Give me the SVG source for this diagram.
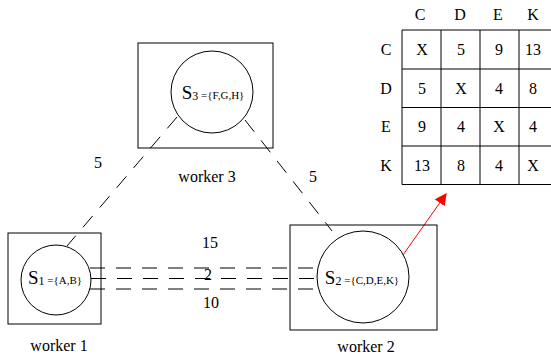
<svg xmlns="http://www.w3.org/2000/svg" width="551" height="359" viewBox="0 0 551 359">
<defs>
<style>
text{font-family:"Liberation Serif","Times New Roman",serif;fill:#000}
.lbl{font-size:16px}
.big{font-size:19px}
.sub{font-size:12px}
.set{font-size:11px}
.box{fill:none;stroke:#000;stroke-width:1}
.node{fill:#fff;stroke:#000;stroke-width:1}
.dash{fill:none;stroke:#000;stroke-width:1;stroke-dasharray:15 11}
.grid{fill:none;stroke:#000;stroke-width:1}
</style>
<marker id="ah" viewBox="0 0 10 10" refX="9" refY="5" markerWidth="12" markerHeight="12" markerUnits="userSpaceOnUse" orient="auto">
<path d="M0,0 L10,5 L0,10 z" fill="#f00"/>
</marker>
</defs>
<rect width="551" height="359" fill="#fff"/>
<g id="connectors">
<line class="dash" x1="177" y1="117" x2="67" y2="246"/>
<line class="dash" x1="245" y1="120" x2="332" y2="231"/>
<line class="dash" x1="90" y1="268" x2="318" y2="268"/>
<line class="dash" x1="91" y1="278.5" x2="317" y2="278.5"/>
<line class="dash" x1="90" y1="289" x2="318" y2="289"/>
<line x1="403" y1="255" x2="446" y2="194" stroke="#f00" stroke-width="1" marker-end="url(#ah)"/>
<text class="lbl" x="98" y="168" text-anchor="middle">5</text>
<text class="lbl" x="313" y="182" text-anchor="middle">5</text>
<text class="lbl" x="210" y="248" text-anchor="middle">15</text>
<text class="lbl" x="208" y="280" text-anchor="middle">2</text>
<text class="lbl" x="211" y="308" text-anchor="middle">10</text>
</g>
<g id="worker3">
<rect class="box" x="138" y="43" width="135" height="105"/>
<circle class="node" cx="212" cy="92" r="41"/>
<text x="213" y="99" text-anchor="middle"><tspan class="big">S</tspan><tspan class="sub" dy="1">3</tspan><tspan class="set" dy="-1"> ={F,G,H}</tspan></text>
<text class="lbl" x="207" y="182" text-anchor="middle">worker 3</text>
</g>
<g id="worker1">
<rect class="box" x="8" y="233" width="93" height="91"/>
<circle class="node" cx="56" cy="280" r="35"/>
<text x="55" y="284" text-anchor="middle"><tspan class="big">S</tspan><tspan class="sub" dy="1">1</tspan><tspan class="set" dy="-1"> ={A,B}</tspan></text>
<text class="lbl" x="59" y="351" text-anchor="middle">worker 1</text>
</g>
<g id="worker2">
<rect class="box" x="290" y="225" width="147" height="105"/>
<circle class="node" cx="363" cy="277" r="46"/>
<text x="362" y="284" text-anchor="middle"><tspan class="big">S</tspan><tspan class="sub" dy="1">2</tspan><tspan class="set" dy="-1"> ={C,D,E,K}</tspan></text>
<text class="lbl" x="366" y="352" text-anchor="middle">worker 2</text>
</g>
<g id="table">
<path class="grid" d="M402,30H551M402,69H551M402,107.5H551M402,146H551M402,184.5H551M402,30V184.5M441,30V184.5M480,30V184.5M519,30V184.5"/>
<g class="lbl" text-anchor="middle">
<text x="420" y="20">C</text><text x="460" y="20">D</text><text x="498" y="20">E</text><text x="533" y="20">K</text>
<text x="386" y="55">C</text><text x="386" y="94">D</text><text x="386" y="132">E</text><text x="386" y="171">K</text>
<text x="422" y="55">X</text><text x="461" y="55">5</text><text x="499" y="55">9</text><text x="533" y="55">13</text>
<text x="422" y="94">5</text><text x="461" y="94">X</text><text x="499" y="94">4</text><text x="533" y="94">8</text>
<text x="422" y="132">9</text><text x="461" y="132">4</text><text x="499" y="132">X</text><text x="533" y="132">4</text>
<text x="422" y="171">13</text><text x="461" y="171">8</text><text x="499" y="171">4</text><text x="533" y="171">X</text>
</g>
</g>
</svg>
